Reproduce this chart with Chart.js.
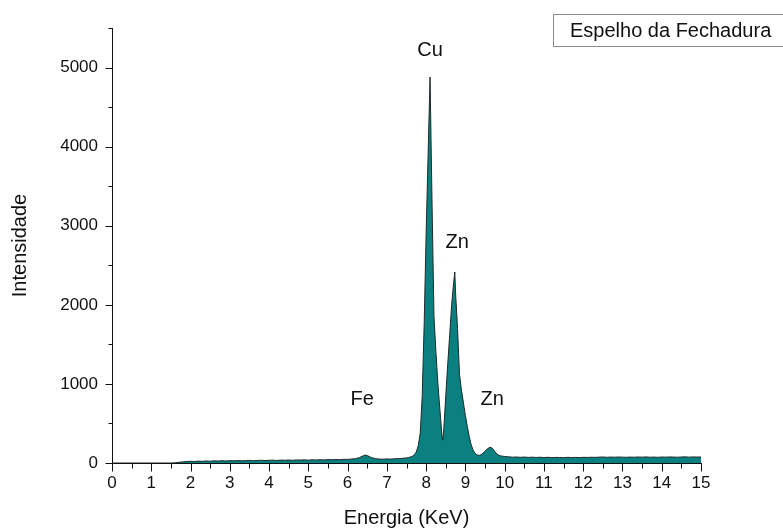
<!DOCTYPE html>
<html>
<head>
<meta charset="utf-8">
<title>Espelho da Fechadura - EDS</title>
<script src="https://cdn.jsdelivr.net/npm/chart.js@4"></script>
<style>
  html, body { margin: 0; padding: 0; background: #fff; }
  #wrap { width: 783px; height: 531px; position: relative; }
</style>
</head>
<body>
<div id="wrap"><canvas id="edsChart"></canvas></div>
<script>
// EDS spectrum: energy (keV) and counts
const energia = [
  0, 0.5, 1.0, 1.5, 1.6, 1.7, 1.8, 1.9,
  2.0, 2.1, 2.2, 2.3, 2.4, 2.5, 2.6, 2.7, 2.8, 2.9,
  3.0, 3.1, 3.2, 3.3, 3.4, 3.5, 3.6, 3.7, 3.8, 3.9,
  4.0, 4.1, 4.2, 4.3, 4.4, 4.5, 4.6, 4.7, 4.8, 4.9,
  5.0, 5.1, 5.2, 5.3, 5.4, 5.5, 5.6, 5.7, 5.8, 5.9,
  6.0, 6.1, 6.2, 6.3, 6.4, 6.45, 6.5, 6.6, 6.7, 6.8, 6.9,
  7.0, 7.1, 7.2, 7.3, 7.4, 7.5, 7.55, 7.6, 7.65, 7.7, 7.75, 7.8, 7.85, 7.9, 7.95,
  8.0, 8.05, 8.1, 8.15, 8.2, 8.25, 8.3, 8.35, 8.4, 8.42, 8.45, 8.5, 8.55, 8.6, 8.65, 8.7, 8.73, 8.75, 8.8, 8.85, 8.9, 8.95,
  9.0, 9.05, 9.1, 9.15, 9.2, 9.25, 9.3, 9.35, 9.4, 9.45, 9.5, 9.55, 9.6, 9.65, 9.7, 9.75, 9.8, 9.85, 9.9, 9.95,
  10.0, 10.1, 10.2, 10.3, 10.4, 10.5, 10.6, 10.7, 10.8, 10.9,
  11.0, 11.1, 11.2, 11.3, 11.4, 11.5, 11.6, 11.7, 11.8, 11.9,
  12.0, 12.1, 12.2, 12.3, 12.4, 12.5, 12.6, 12.7, 12.8, 12.9,
  13.0, 13.1, 13.2, 13.3, 13.4, 13.5, 13.6, 13.7, 13.8, 13.9,
  14.0, 14.1, 14.2, 14.3, 14.4, 14.5, 14.6, 14.7, 14.8, 14.9, 15.0
];
const intensidade = [
  0, 0, 0, 0, 2, 8, 14, 18,
  22, 19, 24, 21, 26, 23, 27, 25, 29, 26,
  30, 27, 31, 28, 30, 33, 29, 32, 35, 31,
  34, 36, 32, 37, 35, 38, 34, 39, 37, 40,
  36, 41, 38, 42, 39, 43, 41, 45, 42, 47,
  45, 50, 55, 68, 92, 100, 94, 70, 55, 50, 48,
  52, 49, 54, 56, 60, 64, 70, 76, 86, 105, 140, 220, 380, 850, 1750,
  2900, 3900, 4880, 3300, 1850, 1400, 1000, 680, 360, 290, 430, 850, 1250, 1620, 2000, 2280, 2415, 2150, 1700, 1120, 920, 760,
  600, 460, 330, 225, 160, 120, 102, 96, 105, 125, 150, 175, 192, 198, 178, 145, 115, 98, 90, 86,
  82, 78, 74, 76, 72, 75, 71, 74, 70, 73,
  69, 72, 68, 71, 70, 67, 72, 69, 71, 68,
  72, 70, 73, 71, 74, 76, 72, 75, 73, 76,
  74, 72, 75, 73, 76, 74, 77, 73, 75, 72,
  76, 74, 77, 75, 73, 76, 78, 74, 77, 75, 76
];

// Element labels placed above their lines
const picoNome = ['Cu', 'Zn', 'Fe', 'Zn'];
const picoKeV = [8.1, 8.79, 6.37, 9.68];
const picoY = [5215, 2790, 808, 808];

const serieNome = 'Espelho da Fechadura';
const fonte = "'Liberation Sans', Arial, sans-serif";

// axis lines, major/minor ticks, peak labels and the legend box
const axesPlugin = {
  id: 'axesPlugin',
  afterDraw(chart) {
    const { ctx, chartArea, scales } = chart;
    const xs = scales.x, ys = scales.y;
    ctx.save();
    ctx.strokeStyle = '#111';
    ctx.lineWidth = 1;
    ctx.beginPath();
    const left = Math.round(chartArea.left) + 0.5;
    const bottom = Math.round(chartArea.bottom) + 0.5;
    ctx.moveTo(left, Math.round(chartArea.top));
    ctx.lineTo(left, bottom);
    ctx.moveTo(left, bottom);
    ctx.lineTo(Math.round(chartArea.right) + 1, bottom);
    ys.ticks.forEach(t => {
      const y = Math.round(ys.getPixelForValue(t.value)) + 0.5;
      const len = t.value % 1000 === 0 ? 7 : 4;
      ctx.moveTo(left - len, y);
      ctx.lineTo(left, y);
    });
    xs.ticks.forEach(t => {
      const x = Math.round(xs.getPixelForValue(t.value)) + 0.5;
      const len = Number.isInteger(t.value) ? 8 : 5;
      ctx.moveTo(x, bottom);
      ctx.lineTo(x, bottom + len);
    });
    ctx.stroke();

    ctx.fillStyle = '#111';
    ctx.font = '20px ' + fonte;
    ctx.textAlign = 'center';
    ctx.textBaseline = 'middle';
    picoNome.forEach((n, i) => {
      ctx.fillText(n, xs.getPixelForValue(picoKeV[i]), ys.getPixelForValue(picoY[i]));
    });

    ctx.strokeStyle = '#8a8a8a';
    ctx.strokeRect(553.5, 14.5, 240, 32);
    ctx.textAlign = 'left';
    ctx.font = '20px ' + fonte;
    ctx.fillText(serieNome, 570, 31);
    ctx.restore();
  }
};

const ctx = document.getElementById('edsChart').getContext('2d');
const edsChart = new Chart(ctx, {
  type: 'line',
  data: {
    datasets: [{
      label: serieNome,
      data: energia.map((e, i) => ({ x: e, y: intensidade[i] })),
      borderColor: '#1c2a2a',
      borderWidth: 1,
      backgroundColor: '#0a8080',
      fill: 'origin',
      pointRadius: 0,
      tension: 0
    }]
  },
  options: {
    responsive: true,
    maintainAspectRatio: false,
    animation: false,
    layout: { padding: { top: 28, right: 82, left: 0, bottom: 0 } },
    plugins: {
      legend: { display: false },
      tooltip: { enabled: false }
    },
    scales: {
      x: {
        type: 'linear',
        min: 0,
        max: 15,
        grid: { display: false, drawTicks: false },
        border: { display: false },
        ticks: {
          stepSize: 0.5,
          autoSkip: false,
          maxRotation: 0,
          padding: 10,
          color: '#111',
          font: { family: fonte, size: 17 },
          callback: v => Number.isInteger(v) ? v : ''
        },
        title: {
          display: true,
          text: 'Energia (KeV)',
          color: '#111',
          font: { family: fonte, size: 20 },
          padding: { top: 0, bottom: 1 }
        },
        afterFit: s => { s.height = 68; }
      },
      y: {
        min: 0,
        max: 5500,
        grid: { display: false, drawTicks: false },
        border: { display: false },
        ticks: {
          stepSize: 500,
          autoSkip: false,
          padding: 14,
          color: '#111',
          font: { family: fonte, size: 17 },
          callback: v => v % 1000 === 0 ? v : ''
        },
        title: {
          display: true,
          text: 'Intensidade',
          color: '#111',
          font: { family: fonte, size: 20 },
          padding: { top: 8, bottom: 0 }
        },
        afterFit: s => { s.width = 112; }
      }
    }
  },
  plugins: [axesPlugin]
});
</script>
</body>
</html>
